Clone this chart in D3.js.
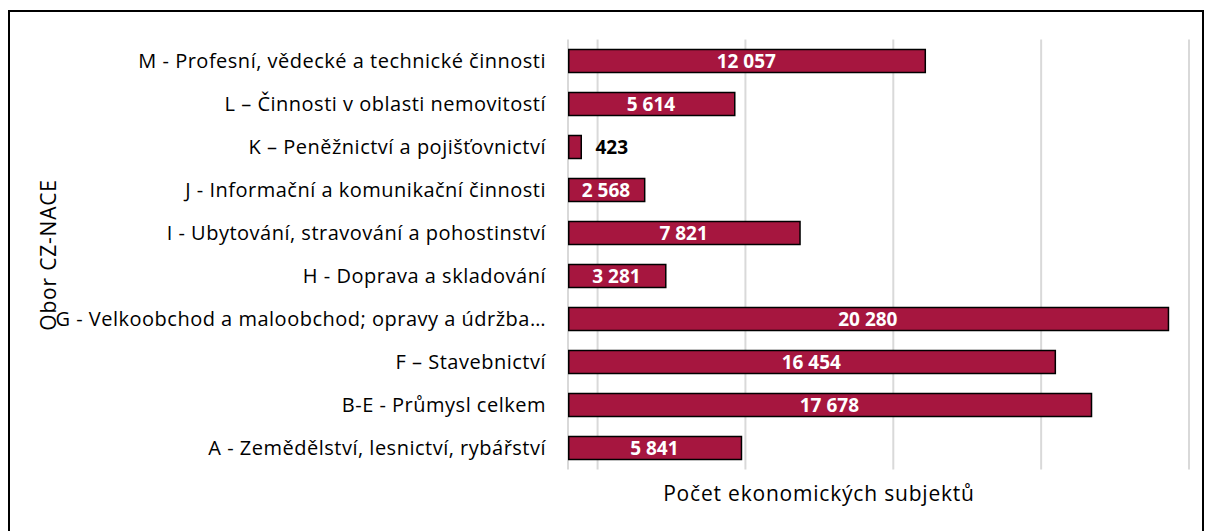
<!DOCTYPE html>
<html lang="cs">
<head>
  <meta charset="UTF-8">
  <title>Obor CZ-NACE</title>
  <style>
    body { margin: 0; background: #fff; font-family: "Open Sans", sans-serif; }
  </style>
  <script src="https://d3js.org/d3.v7.min.js"></script>
</head>
<body>
  <div id="chart"></div>
  <script>
    const categories = [
      "M - Profesní, vědecké a technické činnosti",
      "L – Činnosti v oblasti nemovitostí",
      "K – Peněžnictví a pojišťovnictví",
      "J - Informační a komunikační činnosti",
      "I - Ubytování, stravování a pohostinství",
      "H - Doprava a skladování",
      "G - Velkoobchod a maloobchod; opravy a údržba…",
      "F – Stavebnictví",
      "B-E - Průmysl celkem",
      "A - Zemědělství, lesnictví, rybářství"
    ];
    const values = [12057, 5614, 423, 2568, 7821, 3281, 20280, 16454, 17678, 5841];
    const gridValues = [0, 1000, 6000, 11000, 16000, 21000];

    const width = 1208, height = 531;
    const margin = { left: 568, right: 19, top: 39.5, bottom: 61.5 };

    const locale = d3.formatLocale({ decimal: ",", thousands: " ", grouping: [3], currency: ["", ""] });
    const fmt = locale.format(",d");

    const x = d3.scaleLinear()
        .domain([0, 21000])
        .range([margin.left, width - margin.right]);

    const y = d3.scaleBand()
        .domain(categories)
        .range([margin.top, height - margin.bottom])
        .paddingInner(0.465)
        .paddingOuter(0.2325);

    const svg = d3.select("#chart").append("svg")
        .attr("width", width)
        .attr("height", height);

    // outer frame
    svg.append("rect")
        .attr("x", 9).attr("y", 11)
        .attr("width", 1194).attr("height", 540)
        .attr("fill", "none")
        .attr("stroke", "#000")
        .attr("stroke-width", 2);

    // gridlines
    svg.append("g")
      .selectAll("line")
      .data(gridValues)
      .join("line")
        .attr("x1", d => x(d)).attr("x2", d => x(d))
        .attr("y1", margin.top).attr("y2", height - margin.bottom)
        .attr("stroke", "#d9d9d9")
        .attr("stroke-width", 2);

    const rows = categories.map((c, i) => ({ name: c, value: values[i] }));

    svg.append("g")
      .selectAll("rect")
      .data(rows)
      .join("rect")
        .attr("x", x(0) + 0.75)
        .attr("y", d => y(d.name))
        .attr("width", d => x(d.value) - x(0))
        .attr("height", y.bandwidth())
        .attr("fill", "#a6163f")
        .attr("stroke", "#000")
        .attr("stroke-width", 1.5);

    // value labels
    svg.append("g")
        .style("font-family", "'Open Sans', sans-serif")
        .style("font-weight", "bold")
        .style("font-size", "19px")
      .selectAll("text")
      .data(rows)
      .join("text")
        .attr("y", d => y(d.name) + y.bandwidth() / 2)
        .attr("dy", "0.36em")
        .each(function (d) {
          const inside = x(d.value) - x(0) > 60;
          d3.select(this)
            .attr("x", inside ? (x(0) + x(d.value)) / 2 : x(d.value) + 15)
            .attr("text-anchor", inside ? "middle" : "start")
            .attr("fill", inside ? "#fff" : "#000")
            .text(fmt(d.value));
        });

    // category labels
    svg.append("g")
        .style("font-size", "20px")
        .style("letter-spacing", "0.5px")
        .attr("text-anchor", "end")
      .selectAll("text")
      .data(categories)
      .join("text")
        .attr("x", 546)
        .attr("y", d => y(d) + y.bandwidth() / 2)
        .attr("dy", "0.35em")
        .attr("fill", "#000")
        .text(d => d);

    // axis titles
    svg.append("text")
        .attr("x", 819)
        .attr("y", 501)
        .attr("text-anchor", "middle")
        .style("font-size", "21px")
        .style("letter-spacing", "0.8px")
        .text("Počet ekonomických subjektů");

    svg.append("text")
        .attr("transform", "translate(56,255) rotate(-90)")
        .attr("text-anchor", "middle")
        .style("font-size", "21px")
        .style("letter-spacing", "0.8px")
        .text("Obor CZ-NACE");
  </script>
</body>
</html>
